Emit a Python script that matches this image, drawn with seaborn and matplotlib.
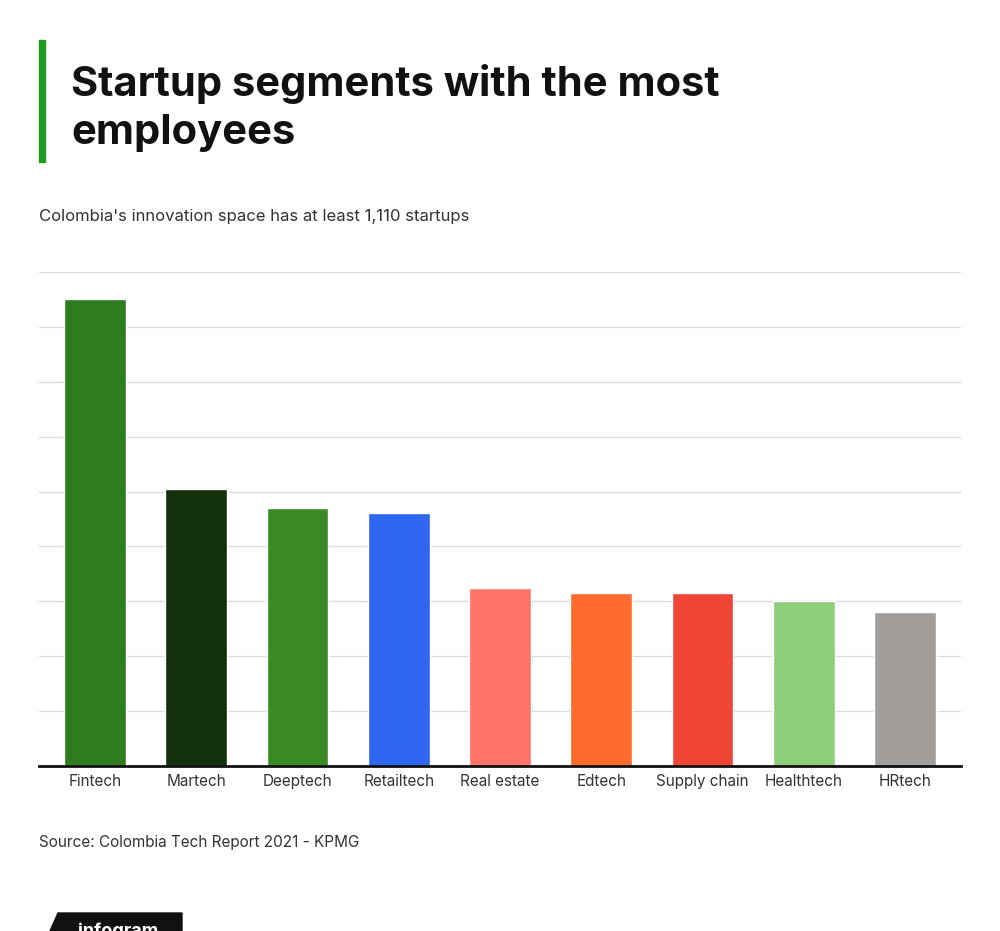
import matplotlib
matplotlib.use("Agg")
import matplotlib.pyplot as plt
import matplotlib.patches as mpatches
import seaborn as sns
import pandas as pd

# data (grid step = 100)
segments = ["Fintech", "Martech", "Deeptech", "Retailtech", "Real estate",
            "Edtech", "Supply chain", "Healthtech", "HRtech"]
employees = [851, 505, 470, 461, 325, 316, 316, 301, 280]
bar_colors = ["#2f7b1f", "#11300b", "#3a8b26", "#2f66f0", "#ff7468",
              "#ff6b2c", "#ee4537", "#8ecf7c", "#a29e9c"]

df = pd.DataFrame({"segment": segments, "employees": employees})

sns.set_theme(style="white")
plt.rcParams["font.family"] = ["Inter", "DejaVu Sans"]

fig = plt.figure(figsize=(10, 9.31), dpi=100)
ax = fig.add_axes([0.039, 0.1772, 0.922, 0.5306])

sns.barplot(data=df, x="segment", y="employees", hue="segment",
            palette=bar_colors, width=0.61, saturation=1, legend=False, ax=ax)

ax.set_ylim(0, 900)
ax.set_xlim(-0.553, len(segments) - 1 + 0.553)
ax.set_yticks(range(100, 901, 100))
ax.set_yticklabels([])
ax.tick_params(axis="y", length=0)
ax.tick_params(axis="x", length=0, pad=6, labelsize=11, labelcolor="#333333")
ax.yaxis.grid(True, color="#dcdcdc", linewidth=1)
ax.set_axisbelow(True)
for side in ["top", "right", "left"]:
    ax.spines[side].set_visible(False)
ax.spines["bottom"].set_color("#111111")
ax.spines["bottom"].set_linewidth(2)
ax.set_xlabel("")
ax.set_ylabel("")

# header
fig.patches.append(mpatches.Rectangle((0.039, 1 - 162 / 931), 0.006, 122 / 931,
                                      transform=fig.transFigure, color="#1f9a1f"))
fig.text(0.071, 1 - 108 / 931, "Startup segments with the most\nemployees",
         fontsize=30, fontweight="bold", color="#111111", va="center",
         linespacing=1.32)
fig.text(0.039, 1 - 216 / 931, "Colombia's innovation space has at least 1,110 startups",
         fontsize=12, color="#333333", va="center")
fig.text(0.039, 1 - 843 / 931, "Source: Colombia Tech Report 2021 - KPMG",
         fontsize=11, color="#333333", va="center")

# infogram badge (cut off at the bottom edge, as in the original)
badge = mpatches.Polygon([(0.05, 0.0), (0.058, 1 - 913 / 931), (0.182, 1 - 913 / 931),
                          (0.182, 0.0)], closed=True, transform=fig.transFigure,
                         color="#111111")
fig.patches.append(badge)
fig.text(0.118, 1 - 931 / 931, "infogram", fontsize=13, fontweight="bold",
         color="white", ha="center", va="center")

fig.savefig("out.png", dpi=100, facecolor="white")
